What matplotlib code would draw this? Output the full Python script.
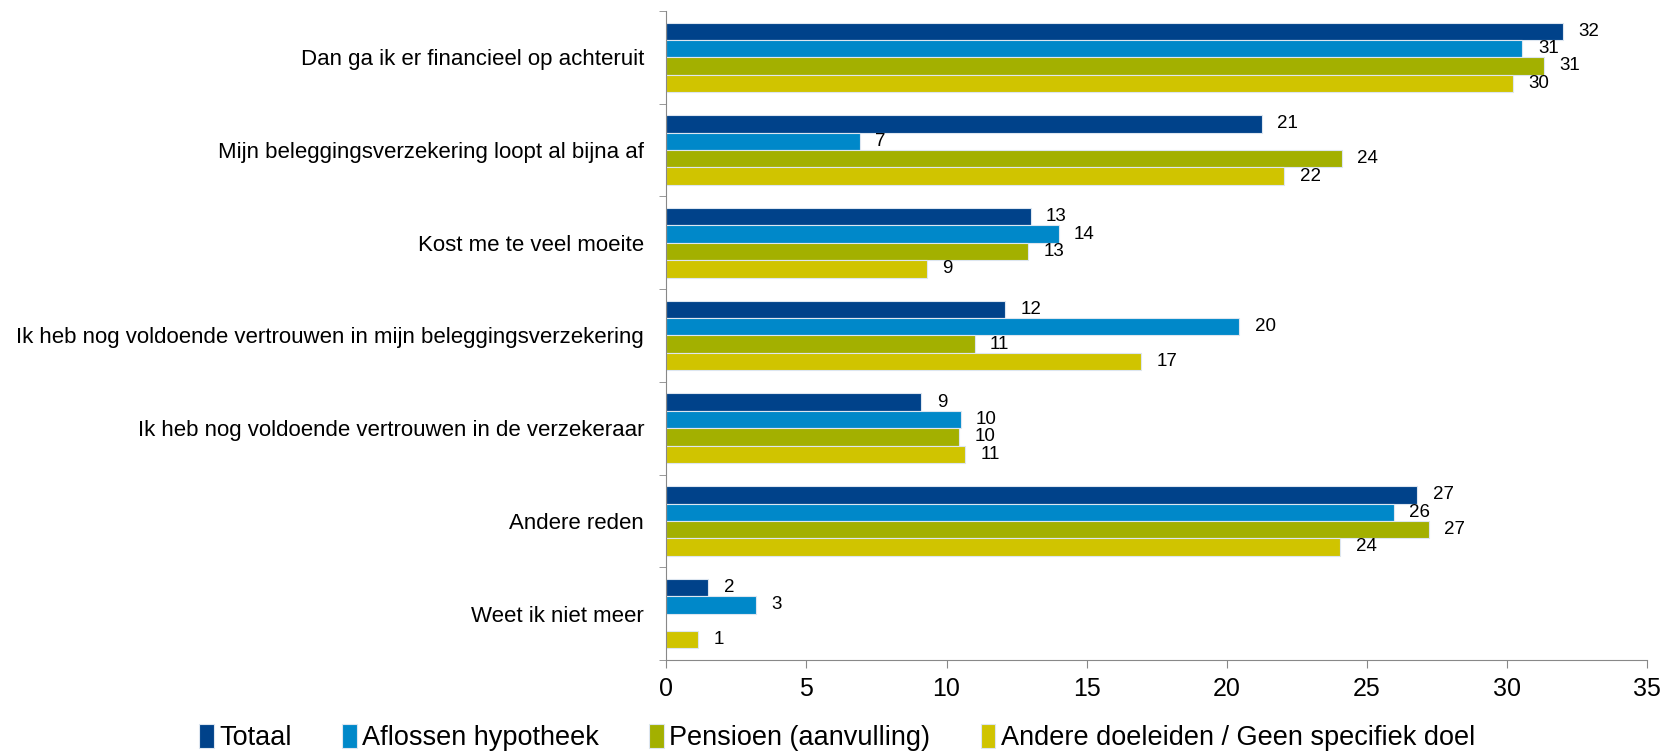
import numpy as np
import matplotlib
matplotlib.use('Agg')
import matplotlib.pyplot as plt

plt.rcParams['font.family'] = ['Liberation Sans', 'DejaVu Sans']

categories = [
    'Dan ga ik er financieel op achteruit',
    'Mijn beleggingsverzekering loopt al bijna af',
    'Kost me te veel moeite',
    'Ik heb nog voldoende vertrouwen in mijn beleggingsverzekering',
    'Ik heb nog voldoende vertrouwen in de verzekeraar',
    'Andere reden',
    'Weet ik niet meer',
]
series = ['Totaal', 'Aflossen hypotheek', 'Pensioen (aanvulling)',
          'Andere doeleiden / Geen specifiek doel']
totaal = [32.0, 21.25, 13.0, 12.1, 9.1, 26.8, 1.5]
aflossen = [30.55, 6.9, 14.0, 20.45, 10.5, 25.95, 3.2]
pensioen = [31.3, 24.1, 12.9, 11.0, 10.45, 27.2, 0.0]
andere = [30.2, 22.05, 9.3, 16.95, 10.65, 24.05, 1.15]
colors = ['#00428A', '#0088C9', '#A3B000', '#D0C400']

values = [totaal, aflossen, pensioen, andere]

fig = plt.figure(figsize=(16.74, 7.53), dpi=100)
ax = fig.add_axes([0.398, 0.1235, 0.586, 0.862])

n = len(categories)
bar_h = 0.1875
y = np.arange(n)
for i, (name, vals, col) in enumerate(zip(series, values, colors)):
    pos = y - 1.5 * bar_h + i * bar_h
    bars = ax.barh(pos, vals, height=bar_h, color=col, edgecolor='#DDE6F0',
                   linewidth=0.8, label=name)
    for b, v in zip(bars, vals):
        if v > 0:
            ax.text(v + 0.55, b.get_y() + bar_h / 2, f'{round(v):.0f}',
                    va='center', ha='left', fontsize=13.5)

ax.set_ylim(n - 0.5, -0.5)
ax.set_xlim(0, 35)
ax.set_xticks(range(0, 36, 5))
ax.set_yticks(y)
ax.set_yticklabels(categories, fontsize=16)
ax.set_yticks(np.arange(n + 1) - 0.5, minor=True)
ax.tick_params(axis='y', which='major', length=0, pad=16)
ax.tick_params(axis='y', which='minor', length=5, color='#888888', direction='out')
ax.tick_params(axis='x', length=6, color='#888888', labelsize=18, pad=6)

for s in ['top', 'right']:
    ax.spines[s].set_visible(False)
for s in ['left', 'bottom']:
    ax.spines[s].set_color('#888888')

fig.legend(loc='lower center', bbox_to_anchor=(0.5, -0.03), ncol=4, frameon=False,
           fontsize=19.5, handlelength=0.55, handleheight=1.0, handletextpad=0.2,
           columnspacing=1.85)

fig.savefig('out.png', dpi=100)
